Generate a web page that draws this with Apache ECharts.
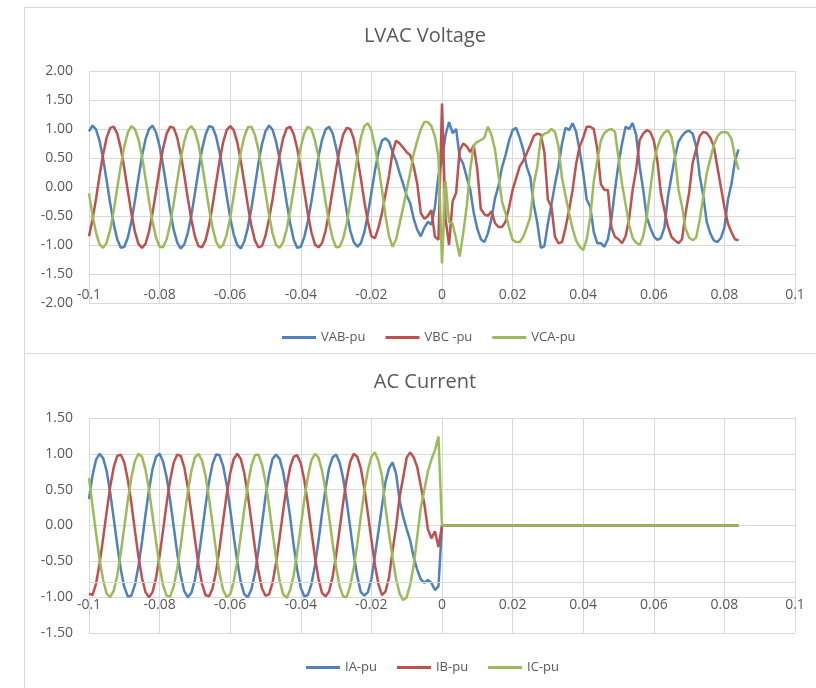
<!DOCTYPE html>
<html>
<head>
<meta charset="utf-8">
<title>LVAC Voltage / AC Current</title>
<script src="https://cdn.jsdelivr.net/npm/echarts@6/dist/echarts.min.js"></script>
<style>
  html, body { margin: 0; padding: 0; background: #fff; }
  #wrap { position: relative; width: 816px; height: 688px; overflow: hidden; }
  .frame { position: absolute; left: 24px; width: 820px; border: 1px solid #d9d9d9; }
  #chart { position: absolute; left: 0; top: 0; width: 816px; height: 688px; }
</style>
</head>
<body>
<div id="wrap">
  <div class="frame" style="top:7px;height:345px"></div>
  <div class="frame" style="top:353px;height:360px"></div>
  <div id="chart"></div>
</div>
<script>
// sample times in ms (1 ms step), -100 .. 84
const tMs = [
  -100, -99, -98, -97, -96, -95, -94, -93, -92, -91,
  -90, -89, -88, -87, -86, -85, -84, -83, -82, -81,
  -80, -79, -78, -77, -76, -75, -74, -73, -72, -71,
  -70, -69, -68, -67, -66, -65, -64, -63, -62, -61,
  -60, -59, -58, -57, -56, -55, -54, -53, -52, -51,
  -50, -49, -48, -47, -46, -45, -44, -43, -42, -41,
  -40, -39, -38, -37, -36, -35, -34, -33, -32, -31,
  -30, -29, -28, -27, -26, -25, -24, -23, -22, -21,
  -20, -19, -18, -17, -16, -15, -14, -13, -12, -11,
  -10, -9, -8, -7, -6, -5, -4, -3, -2, -1,
  0, 1, 2, 3, 4, 5, 6, 7, 8, 9,
  10, 11, 12, 13, 14, 15, 16, 17, 18, 19,
  20, 21, 22, 23, 24, 25, 26, 27, 28, 29,
  30, 31, 32, 33, 34, 35, 36, 37, 38, 39,
  40, 41, 42, 43, 44, 45, 46, 47, 48, 49,
  50, 51, 52, 53, 54, 55, 56, 57, 58, 59,
  60, 61, 62, 63, 64, 65, 66, 67, 68, 69,
  70, 71, 72, 73, 74, 75, 76, 77, 78, 79,
  80, 81, 82, 83, 84
];

// LVAC voltage, pu
const vab = [
  0.96, 1.06, 0.99, 0.79, 0.49, 0.11, -0.28, -0.64, -0.90, -1.05,
  -1.03, -0.87, -0.60, -0.24, 0.15, 0.53, 0.82, 1.00, 1.06, 0.94,
  0.70, 0.37, -0.02, -0.41, -0.74, -0.96, -1.06, -0.99, -0.79, -0.49,
  -0.11, 0.28, 0.64, 0.90, 1.05, 1.03, 0.87, 0.60, 0.24, -0.15,
  -0.53, -0.82, -1.00, -1.06, -0.94, -0.70, -0.37, 0.02, 0.41, 0.74,
  0.96, 1.06, 0.99, 0.78, 0.48, 0.12, -0.27, -0.63, -0.91, -1.05,
  -1.03, -0.86, -0.59, -0.25, 0.14, 0.52, 0.81, 0.99, 1.04, 0.93,
  0.68, 0.36, -0.03, -0.42, -0.75, -0.95, -1.03, -0.97, -0.78, -0.47,
  -0.10, 0.28, 0.60, 0.80, 0.84, 0.78, 0.60, 0.45, 0.24, 0.05,
  -0.15, -0.28, -0.55, -0.74, -0.85, -0.70, -0.60, -0.65, -0.34, 0.20,
  0.45, 0.90, 1.12, 0.93, 1.00, 0.52, 0.40, 0.17, -0.05, -0.45,
  -0.72, -0.90, -0.95, -0.80, -0.55, -0.20, 0.02, 0.34, 0.55, 0.80,
  0.98, 1.02, 0.85, 0.65, 0.35, 0.17, -0.30, -0.62, -1.05, -1.02,
  -0.63, -0.30, 0.05, 0.35, 0.75, 1.02, 0.98, 1.10, 0.95, 0.63,
  0.24, -0.22, -0.34, -0.78, -0.97, -0.97, -1.03, -0.90, -0.55, -0.05,
  0.40, 0.75, 1.04, 1.00, 1.10, 0.90, 0.35, -0.05, -0.52, -0.70,
  -0.85, -0.91, -0.88, -0.70, -0.17, 0.18, 0.52, 0.78, 0.88, 0.95,
  0.97, 0.92, 0.70, 0.20, -0.15, -0.60, -0.80, -0.92, -0.95, -0.88,
  -0.70, -0.22, 0.05, 0.45, 0.65
];
const vbc = [
  -0.85, -0.56, -0.20, 0.20, 0.56, 0.85, 1.02, 1.04, 0.92, 0.67,
  0.32, -0.07, -0.45, -0.77, -0.98, -1.05, -0.98, -0.77, -0.45, -0.07,
  0.32, 0.67, 0.92, 1.04, 1.02, 0.85, 0.56, 0.20, -0.20, -0.56,
  -0.85, -1.02, -1.04, -0.92, -0.67, -0.32, 0.07, 0.45, 0.77, 0.98,
  1.05, 0.98, 0.77, 0.45, 0.07, -0.32, -0.67, -0.92, -1.04, -1.02,
  -0.84, -0.55, -0.21, 0.19, 0.55, 0.84, 1.01, 1.04, 0.91, 0.66,
  0.31, -0.08, -0.46, -0.78, -0.99, -1.04, -0.97, -0.76, -0.44, -0.06,
  0.31, 0.65, 0.90, 1.02, 1.00, 0.83, 0.52, 0.15, -0.25, -0.60,
  -0.85, -0.88, -0.70, -0.45, -0.12, 0.20, 0.60, 0.80, 0.75, 0.68,
  0.60, 0.55, 0.35, 0.05, -0.45, -0.55, -0.50, -0.40, -0.86, -0.91,
  1.44, -0.55, -1.00, -0.25, -0.10, 0.63, 0.75, 0.70, 0.60, 0.72,
  0.30, -0.38, -0.47, -0.50, -0.42, -0.62, -0.69, -0.69, -0.60, -0.35,
  -0.05, 0.15, 0.35, 0.45, 0.58, 0.72, 0.88, 0.92, 0.90, 0.60,
  -0.22, -0.34, -0.86, -0.97, -0.95, -0.70, -0.40, -0.05, 0.40, 0.70,
  0.85, 1.04, 1.04, 1.00, 0.65, 0.05, -0.05, -0.05, -0.70, -0.86,
  -0.90, -0.97, -0.85, -0.55, -0.05, 0.30, 0.81, 0.92, 0.98, 0.95,
  0.80, 0.45, -0.10, -0.40, -0.68, -0.86, -0.92, -0.97, -0.90, -0.45,
  -0.10, 0.41, 0.65, 0.88, 0.95, 0.93, 0.85, 0.70, 0.35, 0.00,
  -0.35, -0.63, -0.78, -0.90, -0.92
];
const vca = [
  -0.11, -0.49, -0.79, -0.99, -1.05, -0.96, -0.74, -0.41, -0.02, 0.37,
  0.70, 0.94, 1.05, 1.00, 0.82, 0.53, 0.15, -0.24, -0.60, -0.87,
  -1.03, -1.04, -0.90, -0.64, -0.28, 0.11, 0.49, 0.79, 0.99, 1.05,
  0.96, 0.74, 0.41, 0.02, -0.37, -0.70, -0.94, -1.05, -1.00, -0.82,
  -0.53, -0.15, 0.24, 0.60, 0.87, 1.03, 1.04, 0.90, 0.64, 0.28,
  -0.10, -0.48, -0.80, -1.00, -1.05, -0.95, -0.73, -0.40, -0.03, 0.36,
  0.69, 0.93, 1.04, 1.00, 0.81, 0.52, 0.14, -0.25, -0.61, -0.88,
  -1.04, -1.03, -0.89, -0.63, -0.27, 0.12, 0.50, 0.85, 1.05, 1.10,
  0.98, 0.70, 0.35, -0.05, -0.50, -0.85, -1.03, -0.90, -0.63, -0.35,
  -0.05, 0.25, 0.58, 0.80, 1.00, 1.12, 1.12, 1.05, 0.87, 0.52,
  -1.32, 0.10, -0.60, -0.63, -0.90, -1.20, -0.80, -0.34, 0.30, 0.72,
  0.78, 0.81, 0.85, 1.04, 0.90, 0.65, 0.20, -0.25, -0.45, -0.70,
  -0.91, -0.95, -0.95, -0.86, -0.70, -0.52, 0.05, 0.35, 0.85, 0.92,
  0.94, 1.00, 0.95, 0.70, 0.15, -0.15, -0.45, -0.72, -0.92, -1.03,
  -1.09, -0.90, -0.52, 0.10, 0.46, 0.80, 0.93, 0.98, 1.00, 0.95,
  0.50, 0.05, -0.30, -0.65, -0.88, -0.96, -1.00, -0.85, -0.52, -0.05,
  0.42, 0.68, 0.85, 0.94, 0.98, 0.87, 0.52, -0.05, -0.34, -0.72,
  -0.87, -0.92, -0.87, -0.57, -0.17, 0.24, 0.48, 0.72, 0.87, 0.94,
  0.95, 0.93, 0.83, 0.52, 0.30
];

// AC current, pu, from -100 ms to 0 ms
const ia = [
  0.37, 0.70, 0.92, 1.00, 0.94, 0.76, 0.46, 0.10, -0.27, -0.61,
  -0.86, -0.99, -0.98, -0.83, -0.57, -0.23, 0.15, 0.50, 0.79, 0.96,
  1.00, 0.89, 0.67, 0.35, -0.02, -0.39, -0.70, -0.92, -1.00, -0.94,
  -0.76, -0.46, -0.10, 0.27, 0.61, 0.86, 0.99, 0.98, 0.83, 0.57,
  0.23, -0.15, -0.50, -0.79, -0.96, -1.00, -0.89, -0.67, -0.35, 0.02,
  0.40, 0.71, 0.93, 0.99, 0.93, 0.75, 0.45, 0.11, -0.28, -0.62,
  -0.87, -0.99, -0.97, -0.82, -0.56, -0.22, 0.16, 0.51, 0.80, 0.95,
  0.99, 0.88, 0.66, 0.34, -0.03, -0.40, -0.71, -0.93, -0.98, -0.93,
  -0.75, -0.42, -0.08, 0.27, 0.61, 0.80, 0.88, 0.72, 0.35, 0.12,
  -0.05, -0.21, -0.45, -0.62, -0.75, -0.80, -0.76, -0.80, -0.90, -0.85,
  0
];
const ib = [
  -0.95, -0.97, -0.81, -0.53, -0.18, 0.19, 0.54, 0.81, 0.97, 0.99,
  0.88, 0.64, 0.31, -0.07, -0.43, -0.73, -0.93, -1.00, -0.93, -0.73,
  -0.42, -0.06, 0.31, 0.64, 0.88, 0.99, 0.97, 0.81, 0.53, 0.18,
  -0.19, -0.54, -0.81, -0.97, -0.99, -0.88, -0.64, -0.31, 0.07, 0.43,
  0.73, 0.93, 1.00, 0.93, 0.73, 0.42, 0.06, -0.31, -0.64, -0.88,
  -0.98, -0.96, -0.80, -0.52, -0.17, 0.20, 0.55, 0.82, 0.96, 0.98,
  0.87, 0.63, 0.30, -0.08, -0.44, -0.74, -0.94, -0.99, -0.92, -0.72,
  -0.41, -0.05, 0.32, 0.65, 0.89, 1.00, 0.96, 0.80, 0.52, 0.17,
  -0.20, -0.55, -0.82, -0.97, -0.92, -0.72, -0.35, -0.02, 0.40, 0.67,
  0.95, 1.02, 0.95, 0.81, 0.55, 0.30, -0.05, -0.18, -0.08, -0.30,
  0
];
const ic = [
  0.66, 0.27, -0.11, -0.47, -0.76, -0.95, -1.00, -0.91, -0.70, -0.38,
  -0.02, 0.35, 0.67, 0.90, 1.00, 0.96, 0.78, 0.50, 0.14, -0.23,
  -0.57, -0.84, -0.98, -0.99, -0.85, -0.60, -0.27, 0.11, 0.47, 0.76,
  0.95, 1.00, 0.91, 0.70, 0.38, 0.02, -0.35, -0.67, -0.90, -1.00,
  -0.96, -0.78, -0.50, -0.14, 0.23, 0.57, 0.84, 0.98, 0.99, 0.85,
  0.61, 0.28, -0.10, -0.46, -0.77, -0.96, -1.01, -0.90, -0.69, -0.37,
  -0.01, 0.36, 0.68, 0.91, 1.00, 0.95, 0.77, 0.49, 0.13, -0.24,
  -0.58, -0.85, -0.99, -1.00, -0.84, -0.59, -0.26, 0.12, 0.48, 0.77,
  0.96, 1.02, 0.90, 0.69, 0.25, -0.12, -0.45, -0.75, -0.95, -1.04,
  -1.00, -0.82, -0.55, -0.15, 0.25, 0.50, 0.75, 0.92, 1.05, 1.24,
  0
];
// after the trip the currents stay at zero up to the last sample
const iPostMs = [84];
const iPost = [0];

const vNames = ['VAB-pu', 'VBC -pu', 'VCA-pu'];
const iNames = ['IA-pu', 'IB-pu', 'IC-pu'];
const iAxisCross = -0.79;

const colors = ['#4F81BD', '#C0504D', '#9BBB59'];
const txt = '#595959';
const gridCol = '#d9d9d9';
const font = 'Open Sans';

function pairs(ms, vals) {
    return vals.map((v, i) => [ms[i] / 1000, v]);
}
function currentData(vals) {
    return pairs(tMs, vals).concat(pairs(iPostMs, iPost));
}

function xAxis(idx, margin) {
    return {
        type: 'value', gridIndex: idx, min: -0.1, max: 0.1, interval: 0.02,
        axisLine: {show: false}, axisTick: {show: false},
        splitLine: {show: true, lineStyle: {color: gridCol, width: 1}},
        axisLabel: {
            color: txt, fontSize: 14, fontFamily: font, margin: margin, verticalAlign: 'middle',
            formatter: v => String(Number(v.toFixed(2)))
        }
    };
}
function yAxis(idx, lim) {
    return {
        type: 'value', gridIndex: idx, min: -lim, max: lim, interval: 0.5,
        axisLine: {show: false}, axisTick: {show: false},
        splitLine: {show: true, lineStyle: {color: gridCol, width: 1}},
        axisLabel: {color: txt, fontSize: 14, fontFamily: font, margin: 16, formatter: v => v.toFixed(2)}
    };
}
function line(name, idx, data, color) {
    return {
        name: name, type: 'line', xAxisIndex: idx, yAxisIndex: idx,
        data: data, showSymbol: false, symbol: 'none',
        lineStyle: {width: 2.5, color: color}, itemStyle: {color: color},
        emphasis: {disabled: true}
    };
}
const legendBase = {
    icon: 'rect', itemWidth: 34, itemHeight: 3, itemGap: 20, padding: 0,
    textStyle: {color: txt, fontSize: 13, fontFamily: font}
};
const titleBase = {
    left: 425, textAlign: 'center', textVerticalAlign: 'middle', padding: 0
};
const titleText = {color: txt, fontSize: 20, fontWeight: 'normal', fontFamily: font};

const option = {
    animation: false,
    color: colors,
    title: [
        Object.assign({text: 'LVAC Voltage', top: 36, textStyle: titleText}, titleBase),
        Object.assign({text: 'AC Current', top: 382, textStyle: titleText}, titleBase)
    ],
    legend: [
        Object.assign({data: vNames, left: 282, top: 331}, legendBase),
        Object.assign({data: iNames, left: 306, top: 661}, legendBase)
    ],
    grid: [
        {left: 89, top: 71, width: 706, height: 232, outerBoundsMode: 'none'},
        {left: 89, top: 418, width: 706, height: 215, outerBoundsMode: 'none'}
    ],
    xAxis: [xAxis(0, -8), xAxis(1, -28)],
    yAxis: [yAxis(0, 2), yAxis(1, 1.5)],
    series: [
        {
            type: 'line', xAxisIndex: 1, yAxisIndex: 1, data: [], z: 1, silent: true,
            markLine: {
                symbol: 'none', silent: true, label: {show: false},
                lineStyle: {color: gridCol, type: 'solid', width: 1},
                data: [{yAxis: iAxisCross}]
            }
        },
        line(vNames[0], 0, pairs(tMs, vab), colors[0]),
        line(vNames[1], 0, pairs(tMs, vbc), colors[1]),
        line(vNames[2], 0, pairs(tMs, vca), colors[2]),
        line(iNames[0], 1, currentData(ia), colors[0]),
        line(iNames[1], 1, currentData(ib), colors[1]),
        line(iNames[2], 1, currentData(ic), colors[2])
    ]
};

let myChart = echarts.init(document.getElementById('chart'));
myChart.setOption(option);
</script>
</body>
</html>
